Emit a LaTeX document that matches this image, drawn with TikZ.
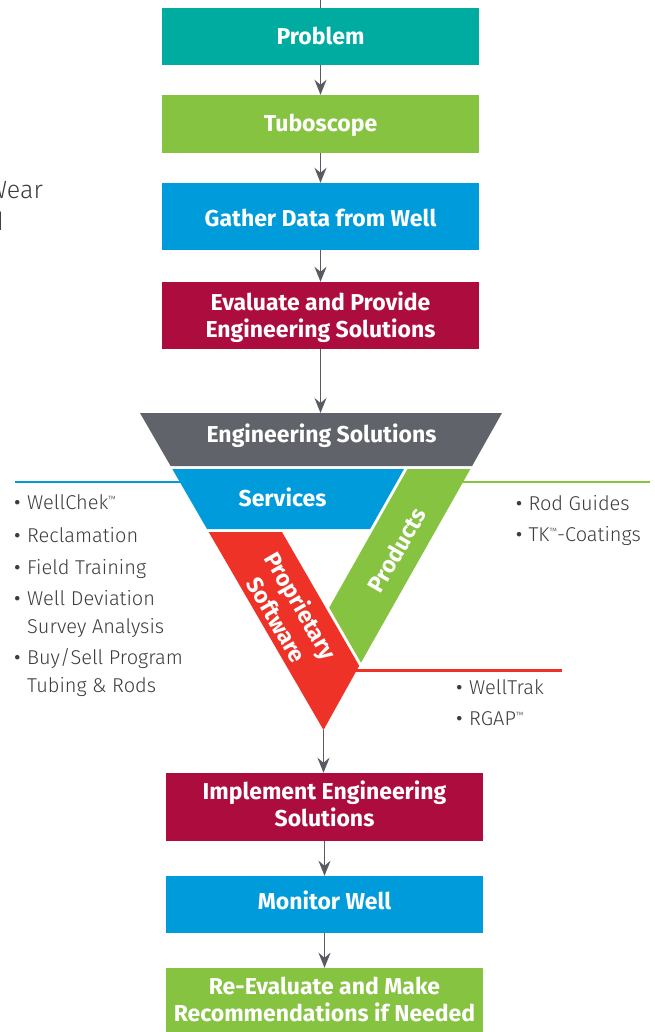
\documentclass[tikz,border=0pt]{standalone}
\usepackage{fontspec}
\setmainfont{Fira Sans}
\IfFontExistsTF{Fira Sans Light}{\newfontfamily\lightfont{Fira Sans Light}}{\newfontfamily\lightfont{Fira Sans}}
\usetikzlibrary{arrows.meta,calc}
\definecolor{cteal}{RGB}{0,172,160}
\definecolor{cgreen}{RGB}{133,195,64}
\definecolor{cblue}{RGB}{0,155,219}
\definecolor{ccrim}{RGB}{173,12,62}
\definecolor{cgray}{RGB}{96,100,106}
\definecolor{carrow}{RGB}{88,91,98}
\definecolor{cred}{RGB}{238,50,39}
\definecolor{ctext}{RGB}{60,60,60}
\newcommand\tmk{\raisebox{7pt}{\fontsize{9}{9}\selectfont ™}}
\begin{document}
\begin{tikzpicture}[x=1pt,y=-1pt,
  box/.style={rectangle, inner sep=0pt, minimum width=317pt},
  ttl/.style={anchor=base, inner sep=0pt, text=white, font=\bfseries\fontsize{23}{27}\selectfont, align=center},
  conn/.style={draw=carrow, line width=1.8pt, -{Stealth[length=15pt,width=12pt,inset=5pt]}},
  plainconn/.style={draw=carrow, line width=1.8pt},
  bul/.style={anchor=base west, inner sep=0pt, text=ctext, font=\lightfont\fontsize{20}{24}\selectfont},
  dot/.style={anchor=base west, inner sep=0pt, text=ctext, font=\fontsize{20}{24}\selectfont},
  side/.style={line width=2.8pt}
]
\useasboundingbox (0,0) rectangle (655,1032);

% top flow boxes
\node[box, fill=cteal, minimum height=57pt] (problem) at (320.5,36.5) {};
\node[box, fill=cgreen, minimum height=58pt] (tubo) at (320.5,124) {};
\node[box, fill=cblue, minimum height=67pt] (gather) at (320.5,216.5) {};
\node[box, fill=ccrim, minimum height=67pt] (evalp) at (320.5,315.5) {};
\node[ttl] (problemt) at (320.5,45) {Problem};
\node[ttl] (tubot) at (320.5,131.7) {Tuboscope};
\node[ttl] (gathert) at (320.5,226) {Gather Data from Well};
\node[ttl] (evalt) at (320.5,337.7) {Evaluate and Provide\\Engineering Solutions};

% bottom flow boxes
\node[box, fill=ccrim, minimum height=68pt] (impl) at (324.5,807) {};
\node[box, fill=cblue, minimum height=57pt] (monitor) at (324.5,904.5) {};
\node[box, fill=cgreen, minimum height=67pt] (reeval) at (324.5,1001.5) {};
\node[ttl] (implt) at (324.5,826) {Implement Engineering\\Solutions};
\node[ttl] (monitort) at (324.5,909.3) {Monitor Well};
\node[ttl] (reevalt) at (324.5,1021.7) {Re-Evaluate and Make\\Recommendations if Needed};

% side lines (behind the triangle)
\coordinate (bl0) at (15,482);   \coordinate (bl1) at (190,482);
\coordinate (gl0) at (455,482);  \coordinate (gl1) at (650,482);
\coordinate (rl0) at (350,670.5);\coordinate (rl1) at (562,670.5);
\draw[side, cblue] (bl0) -- (bl1);
\draw[side, cgreen] (gl0) -- (gl1);
\draw[side, cred] (rl0) -- (rl1);

% triangle
\coordinate (trtop) at (320.5,413);
\coordinate (apex) at (323.5,730);
\fill[cgray] (140,413) -- (502,413) -- (472.1,466) -- (170.6,466) -- cycle;
\fill[cblue] (172.3,469) -- (404,469) -- (370.1,529) -- (207.0,529) -- cycle;
\fill[cgreen] (407.5,469) -- (470.4,469) -- (361.0,662.7) -- (329.2,607.6) -- cycle;
\fill[cred] (208.7,532) -- (282,532) -- (359.2,665.8) -- (apex) -- cycle;

\node[ttl] (engt) at (321.5,442.7) {Engineering Solutions};
\node[ttl] (servt) at (282.5,506) {Services};
\node[ttl, anchor=center, rotate=60] (prodt) at (396.7,550) {Products};
\node[ttl, anchor=center, rotate=-60, font=\bfseries\fontsize{23}{28}\selectfont] (propt) at (289.6,612.5) {Proprietary\\Software};

% connectors
\coordinate (top) at (320.5,0);
\draw[plainconn] (top) -- (problem.north);
\draw[conn] (problem) -- (tubo);
\draw[conn] (tubo) -- (gather);
\draw[conn] (gather) -- (evalp);
\draw[conn] (evalp) -- (trtop);
\draw[conn] (apex) -- (apex |- impl.north);
\draw[conn] (impl) -- (monitor);
\draw[conn] (monitor) -- (reeval);

% left list
\node[dot] (lb1) at (14,509.5) {•}; \node[bul] (lt1) at (27,509.5) {WellChek\tmk};
\node[dot] (lb2) at (14,542.7) {•}; \node[bul] (lt2) at (27,542.7) {Reclamation};
\node[dot] (lb3) at (14,574) {•}; \node[bul] (lt3) at (27,574) {Field Training};
\node[dot] (lb4) at (14,605.5) {•}; \node[bul] (lt4) at (27,605.5) {Well Deviation};
\node[bul] (lt4b) at (27,633) {Survey Analysis};
\node[dot] (lb5) at (14,664.5) {•}; \node[bul] (lt5) at (27,664.5) {Buy/Sell Program};
\node[bul] (lt5b) at (27,692.7) {Tubing \& Rods};

% right lists
\node[dot] (rb1) at (515.7,510) {•}; \node[bul] (rt1) at (528.3,510) {Rod Guides};
\node[dot] (rb2) at (515.7,541.7) {•}; \node[bul] (rt2) at (528.3,541.7) {TK\tmk-Coatings};
\node[dot] (rb3) at (456,694) {•}; \node[bul] (rt3) at (469,694) {WellTrak};
\node[dot] (rb4) at (456,725) {•}; \node[bul] (rt4) at (469,725) {RGAP\tmk};

% clipped text at left edge
\node[anchor=base east, inner sep=0pt, text=ctext, font=\lightfont\fontsize{25}{31}\selectfont] (wear) at (43,199) {Wear};
\node[anchor=base east, inner sep=0pt, text=ctext, font=\lightfont\fontsize{25}{31}\selectfont] (weard) at (4,230) {d};
\end{tikzpicture}
\end{document}
